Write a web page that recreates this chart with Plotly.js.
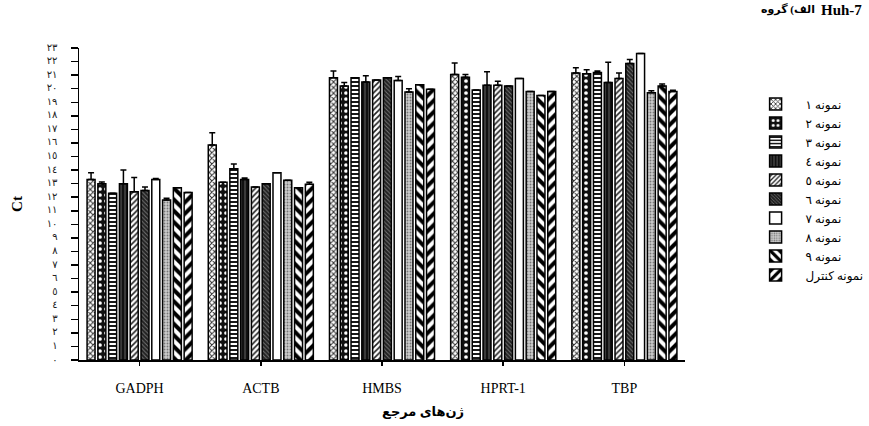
<!DOCTYPE html>
<html><head><meta charset="utf-8">
<script src="https://cdn.plot.ly/plotly-3.0.1.min.js"></script>
<style>
html,body{margin:0;padding:0;background:#fff}#chart{width:869px;height:426px}
</style>
</head><body><div id="chart"></div>
<script>
var categories = ["GADPH", "ACTB", "HMBS", "HPRT-1", "TBP"];
var seriesNames = ["نمونه ١", "نمونه ٢", "نمونه ٣", "نمونه ٤", "نمونه ٥", "نمونه ٦", "نمونه ٧", "نمونه ٨", "نمونه ٩", "نمونه کنترل"];
var s1 = [13.3, 15.85, 20.8, 21.05, 21.15];
var s2 = [13.0, 13.1, 20.2, 20.85, 21.1];
var s3 = [12.3, 14.1, 20.8, 19.9, 21.2];
var s4 = [13.0, 13.3, 20.5, 20.25, 20.45];
var s5 = [12.4, 12.75, 20.65, 20.25, 20.75];
var s6 = [12.5, 13.0, 20.8, 20.2, 21.85];
var s7 = [13.3, 13.8, 20.6, 20.75, 22.6];
var s8 = [11.8, 13.25, 19.75, 19.8, 19.7];
var s9 = [12.7, 12.7, 20.3, 19.5, 20.2];
var s10 = [12.35, 12.95, 19.95, 19.8, 19.8];
var e1 = [0.5, 0.9, 0.5, 0.85, 0.4];
var e2 = [0.12, 0, 0.25, 0.2, 0.3];
var e3 = [0, 0.35, 0, 0, 0.1];
var e4 = [1.0, 0.12, 0.45, 1.0, 1.5];
var e5 = [1.05, 0, 0, 0.3, 0.4];
var e6 = [0.25, 0, 0, 0, 0.3];
var e7 = [0.08, 0, 0.3, 0, 0];
var e8 = [0.12, 0, 0.25, 0, 0.15];
var e9 = [0, 0, 0, 0, 0.15];
var e10 = [0, 0.15, 0, 0, 0.08];
var yTickVals = [0,1,2,3,4,5,6,7,8,9,10,11,12,13,14,15,16,17,18,19,20,21,22,23];
var yTickText = ["٠","١","٢","٣","٤","٥","٦","٧","٨","٩","١٠","١١","١٢","١٣","١٤","١٥","١٦","١٧","١٨","١٩","٢٠","٢١","٢٢","٢٣"];
var chartTitleFa = "الف) گروه";
var chartTitleCell = "Huh-7";
var xTitle = "ژن‌های مرجع";
var yTitle = "Ct";

// each word in its own span so the words sit left-to-right as in the reference
function ltrWords(s){
  return s.split(' ').map(function(w){ return '<span>' + w + '</span>'; }).join(' ');
}
var values = [s1,s2,s3,s4,s5,s6,s7,s8,s9,s10];
var errors = [e1,e2,e3,e4,e5,e6,e7,e8,e9,e10];
var patterns = [
  {shape:'x', size:4, solidity:0.45, fgcolor:'#333', bgcolor:'#fff'},
  {shape:'.', size:6, solidity:0.3, fgcolor:'#fff', bgcolor:'#111'},
  {shape:'-', size:4, solidity:0.45, fgcolor:'#000', bgcolor:'#fff'},
  {shape:'|', size:4, solidity:0.3, fgcolor:'#555', bgcolor:'#111'},
  {shape:'/', size:4, solidity:0.4, fgcolor:'#222', bgcolor:'#fff'},
  {shape:'\\', size:3, solidity:0.3, fgcolor:'#777', bgcolor:'#222'},
  {shape:'', fgcolor:'#000', bgcolor:'#fff'},
  {shape:'.', size:3, solidity:0.3, fgcolor:'#777', bgcolor:'#ccc'},
  {shape:'\\', size:8, solidity:0.5, fgcolor:'#000', bgcolor:'#fff'},
  {shape:'/', size:8, solidity:0.5, fgcolor:'#000', bgcolor:'#fff'}
];
var serif = 'Liberation Serif, DejaVu Serif, DejaVu Sans, serif';
var traces = values.map(function(v, i){
  return {
    type:'bar', x:categories, y:v, name:ltrWords(seriesNames[i]),
    marker:{color:'#fff', line:{color:'#000', width:1.5}, pattern:patterns[i]},
    error_y:{type:'data', symmetric:false, array:errors[i], arrayminus:errors[i].map(function(){return 0;}), color:'#000', thickness:1.5, width:3}
  };
});
var layout = {
  width:869, height:426,
  margin:{l:79, r:184, t:48, b:66},
  paper_bgcolor:'#fff', plot_bgcolor:'#fff',
  barmode:'group', bargap:0.11, bargroupgap:0.26,
  showlegend:true,
  title:{text:'<b>' + ltrWords(chartTitleFa) + '</b>', x:815/869, xanchor:'right', y:0.978, yanchor:'middle', font:{family:serif, size:11, color:'#000'}},
  legend:{xref:'container', yref:'container', x:0.858, y:0.79, xanchor:'left', yanchor:'top', itemwidth:50, font:{family:serif, size:12, color:'#000'}, bgcolor:'rgba(0,0,0,0)'},
  xaxis:{range:[-0.5,4.5], showline:true, linecolor:'#000', linewidth:1.5, ticks:'outside', ticklen:4, tickcolor:'#000', tickwidth:1.5, showgrid:false, zeroline:false, tickfont:{family:serif, size:14, color:'#000'}, ticklabelstandoff:11, fixedrange:true},
  yaxis:{range:[0,23], tickvals:yTickVals, ticktext:yTickText, showline:true, linecolor:'#000', linewidth:1.5, ticks:'outside', ticklen:7, tickcolor:'#000', tickwidth:1.5, showgrid:false, zeroline:false, tickfont:{family:serif, size:10, color:'#222'}, ticklabelstandoff:11, ticklabelshift:-1, automargin:false,
    title:{text:'<b>' + yTitle + '</b>', font:{family:serif, size:15, color:'#000'}, standoff:20}},
  annotations:[
    {xref:'paper', yref:'paper', x:(423-79)/606, y:(360-411)/312, xanchor:'center', yanchor:'middle', showarrow:false, text:'<b>' + ltrWords(xTitle) + '</b>', font:{family:serif, size:13, color:'#000'}},
    {xref:'paper', yref:'paper', x:(864-79)/606, y:(360-10)/312, xanchor:'right', yanchor:'middle', showarrow:false, text:'<b>' + chartTitleCell + '</b>', font:{family:serif, size:15, color:'#000'}}
  ]
};
Plotly.newPlot('chart', traces, layout, {displayModeBar:false, staticPlot:true});
</script>
</body></html>
